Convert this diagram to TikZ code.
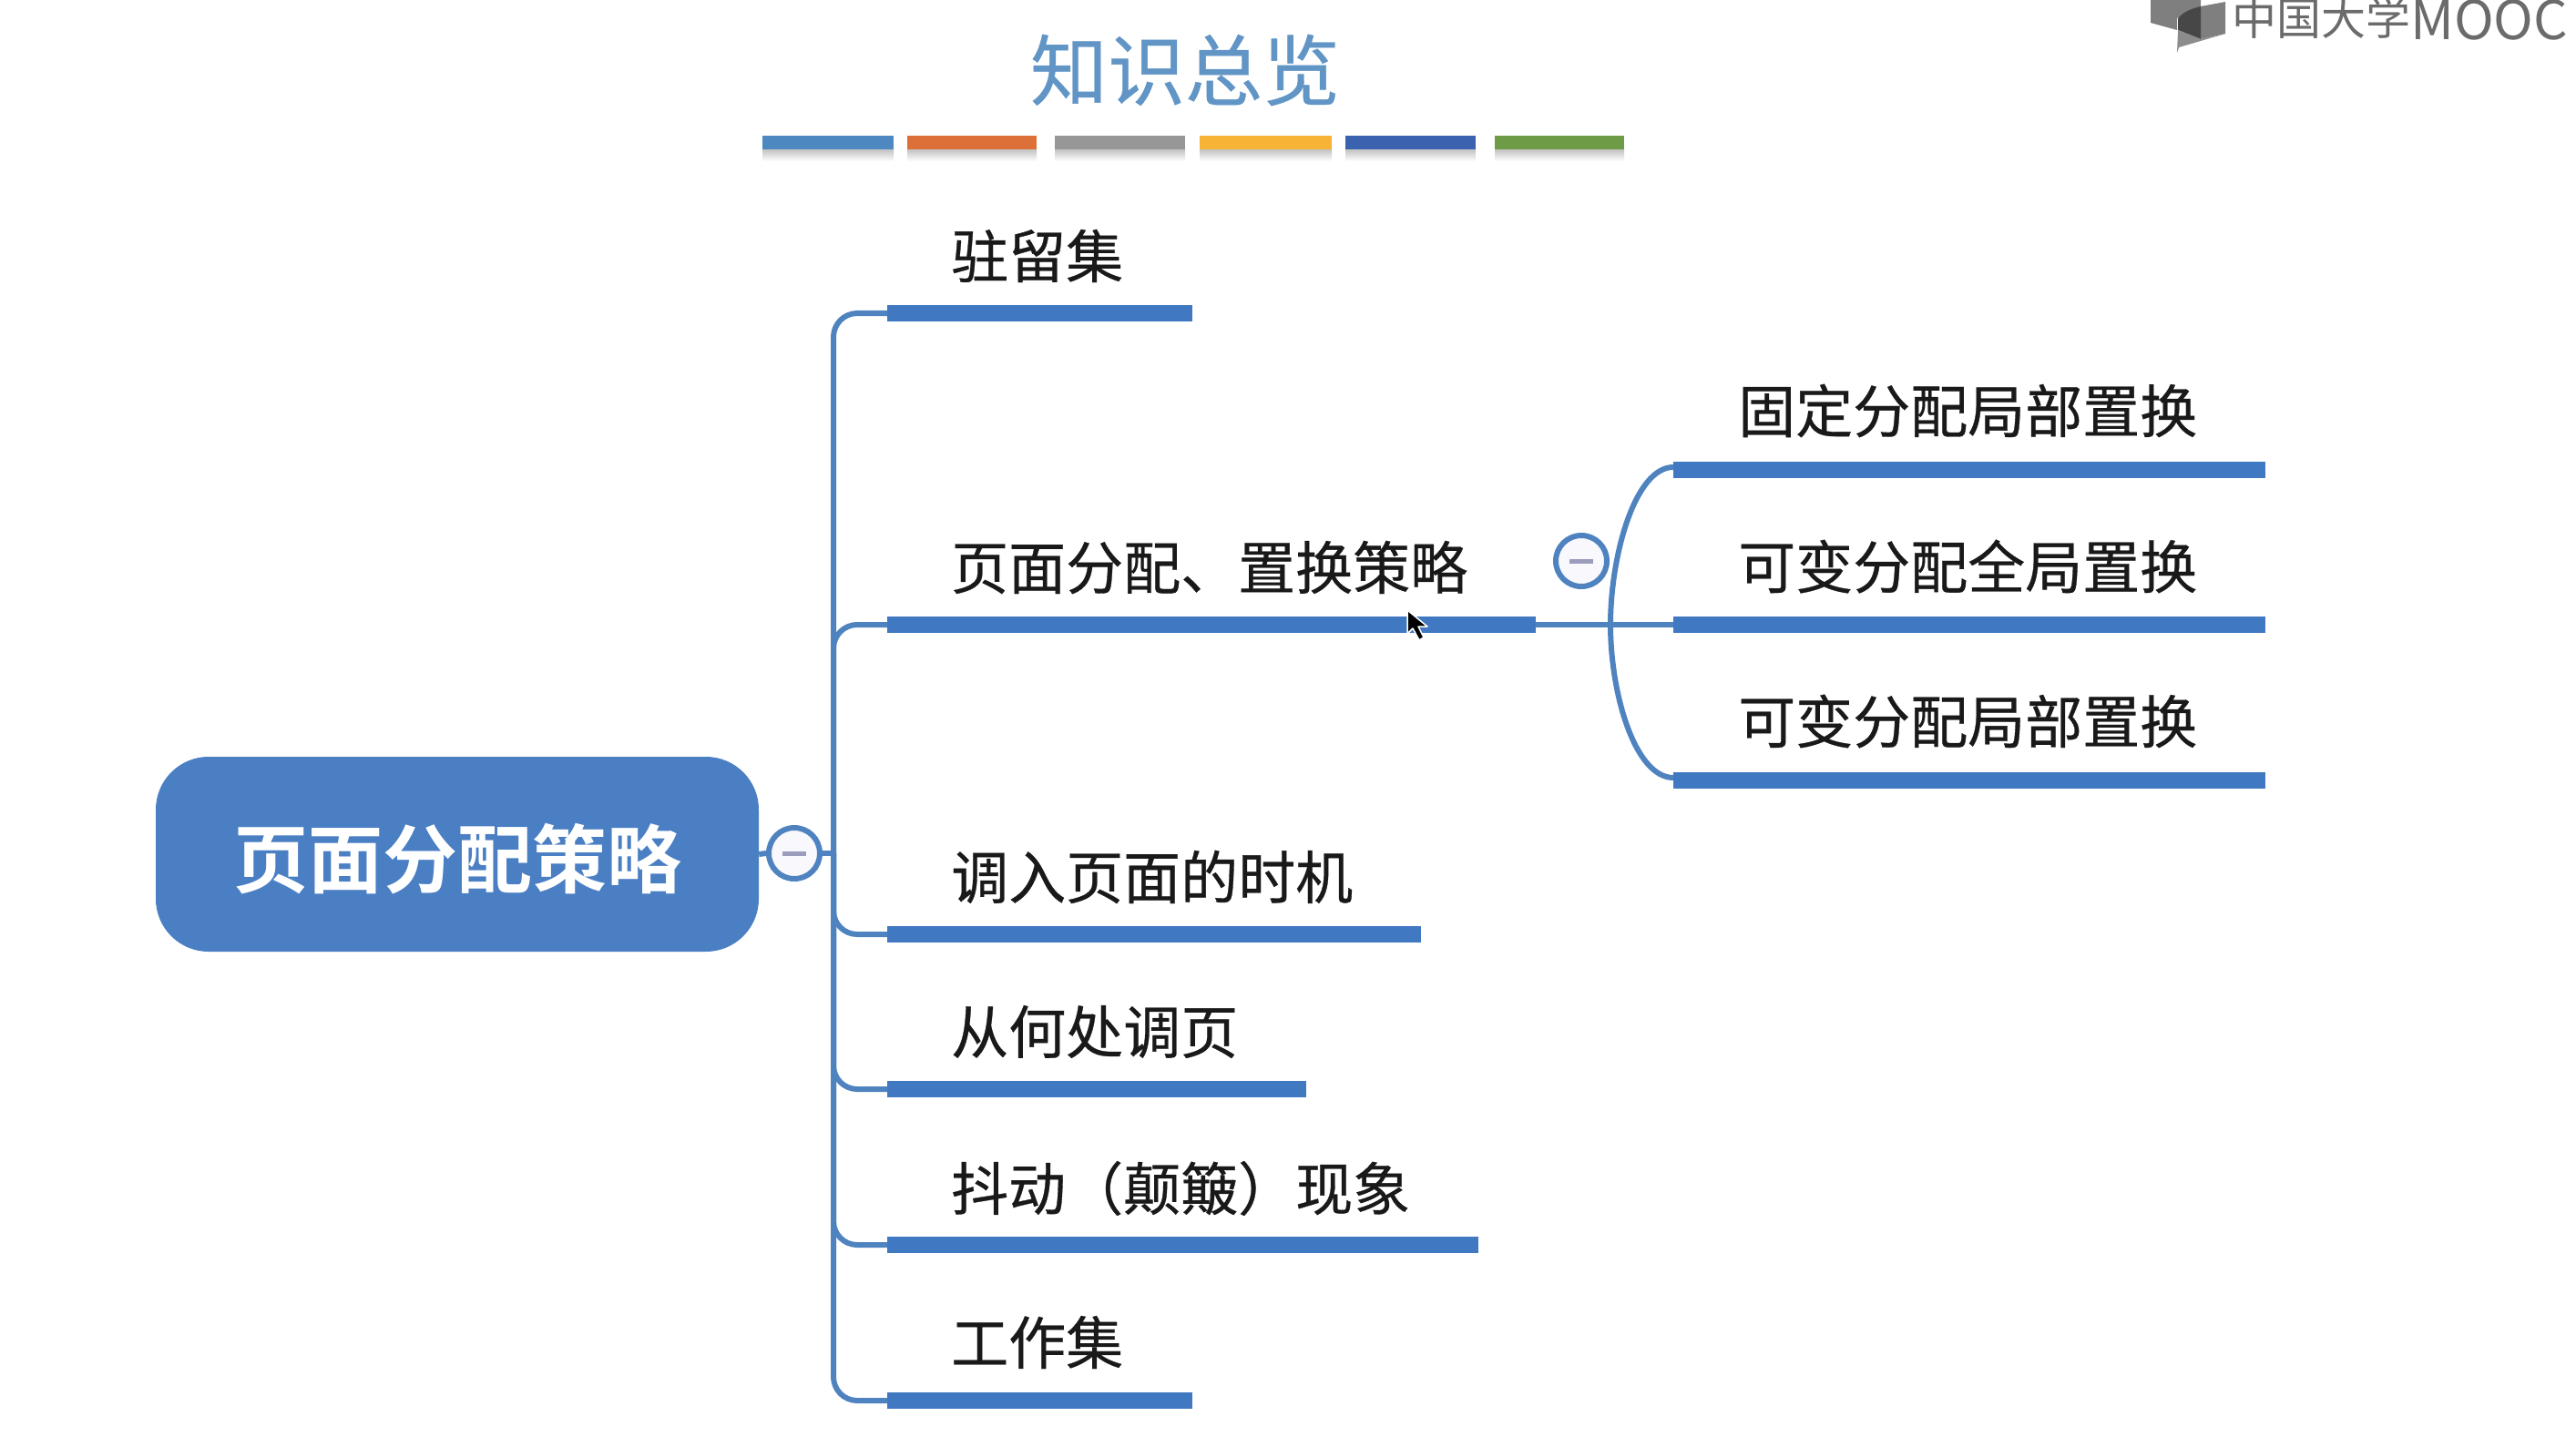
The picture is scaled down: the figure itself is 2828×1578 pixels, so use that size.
\documentclass[tikz,border=0pt]{standalone}
\usepackage{fontspec}
\usetikzlibrary{calc}
\newfontfamily\cjk[FakeBold=0.5]{Noto Sans CJK SC}
\newfontfamily\cjklogo{Noto Sans CJK SC}
\newfontfamily\cjkb{Noto Sans CJK SC Bold}
\definecolor{barblue}{HTML}{4079C1}
\definecolor{lineblue}{HTML}{4F83C0}
\definecolor{rootblue}{HTML}{4A7FC4}
\definecolor{titleblue}{HTML}{6195C6}
\definecolor{tbA}{HTML}{4E88C0}
\definecolor{tbB}{HTML}{DD7038}
\definecolor{tbC}{HTML}{979797}
\definecolor{tbD}{HTML}{F6B335}
\definecolor{tbE}{HTML}{3A62AE}
\definecolor{tbF}{HTML}{6E9C46}
\definecolor{togglefill}{HTML}{F8F8FD}
\definecolor{minusgrey}{HTML}{9C9CBC}
\definecolor{logogrey}{HTML}{7F7F7F}
\tikzset{
  barnode/.style={fill=barblue,draw=none,inner sep=0,minimum height=18pt,anchor=west},
  titlebar/.style={draw=none,inner sep=0,minimum height=15pt,anchor=west},
  itemtext/.style={font=\cjk\fontsize{63}{70}\selectfont,text=black!90,inner sep=0,anchor=west},
  conn/.style={draw=lineblue,line width=6pt},
  togglenode/.style={circle,draw=lineblue,line width=6pt,fill=togglefill,inner sep=0,minimum size=56pt},
  minus/.style={draw=minusgrey,line width=5pt},
}
\begin{document}
\begin{tikzpicture}[x=1pt,y=-1pt]
\useasboundingbox (0,0) rectangle (2828,1578);
\clip (0,0) rectangle (2828,1578);
% title
\node[inner sep=0,text=titleblue,font=\cjk\fontsize{85}{90}\selectfont] (title) at (1301,77) {知识总览};
% title bars: soft shadows first
\foreach \a/\b in {837/981,996/1138,1158/1301,1317/1462,1477/1620,1641/1783}{
  \shade[top color=black!24,bottom color=white] (\a,164) rectangle (\b,177);
}
\node[titlebar,fill=tbA,minimum width=144pt] (t1) at (837,156.5) {};
\node[titlebar,fill=tbB,minimum width=142pt] (t2) at (996,156.5) {};
\node[titlebar,fill=tbC,minimum width=143pt] (t3) at (1158,156.5) {};
\node[titlebar,fill=tbD,minimum width=145pt] (t4) at (1317,156.5) {};
\node[titlebar,fill=tbE,minimum width=143pt] (t5) at (1477,156.5) {};
\node[titlebar,fill=tbF,minimum width=142pt] (t6) at (1641,156.5) {};
% logo
\fill[logogrey] (2361,0) -- (2361,25) -- (2390,33) -- (2390,20) -- (2416,7) -- (2416,0) -- cycle;
\fill[logogrey] (2416,7) -- (2443,2) -- (2443,37) -- (2416,43) -- cycle;
\fill[black!72] (2391,20) .. controls (2398,12) and (2408,9) .. (2416,7) -- (2416,43) -- (2391,33) -- cycle;
\fill[black!45] (2391,33) -- (2416,43) -- (2443,37) -- (2392,52) -- (2390,58) -- cycle;
\node[inner sep=0,anchor=base west,text=black!58,font=\cjklogo\fontsize{49}{55}\selectfont] (logotext) at (2450,44) {\raisebox{5pt}{中国大学}\fontsize{59}{65}\selectfont MOOC};
% root and toggles
\node[fill=rootblue,draw=none,rounded corners=58pt,minimum width=662pt,minimum height=214pt,inner sep=0,text=white,font=\cjkb\fontsize{82}{90}\selectfont] (root) at (502,938) {\raisebox{-36pt}[0pt][0pt]{页面分配策略}};
\node[togglenode] (tg1) at (872,937) {};
\draw[minus] ($(tg1.center)+(-13,0)$) -- ($(tg1.center)+(13,0)$);
\node[togglenode] (tg2) at (1736,616) {};
\draw[minus] ($(tg2.center)+(-13,0)$) -- ($(tg2.center)+(13,0)$);
% level-1 bars
\node[barnode,minimum width=335pt] (b1) at (974,344) {};
\node[barnode,minimum width=712pt] (b2) at (974,686) {};
\node[barnode,minimum width=586pt] (b3) at (974,1026) {};
\node[barnode,minimum width=460pt] (b4) at (974,1196) {};
\node[barnode,minimum width=649pt] (b5) at (974,1367) {};
\node[barnode,minimum width=335pt] (b6) at (974,1538) {};
% level-2 bars
\node[barnode,minimum width=650pt] (r1) at (1837,516) {};
\node[barnode,minimum width=650pt] (r2) at (1837,686) {};
\node[barnode,minimum width=650pt] (r3) at (1837,857) {};
% connectors
\coordinate (trunk) at (915,937);
\coordinate (fork) at (1768,686);
\draw[conn] (root.east) -- (tg1.west);
\draw[conn] (tg1.east) -- (trunk);
\foreach \t in {b1,b2,b3,b4,b5,b6}{
  \draw[conn,rounded corners=26pt] (trunk) |- (\t.west);
}
\draw[conn] (b2.east) -- (r2.west);
\draw[conn] (fork) .. controls ($(fork)+(0,-76)$) and ($(r1.west)+(-42,-3)$) .. ($(r1.west)+(0,-3)$);
\draw[conn] (fork) .. controls ($(fork)+(0,76)$) and ($(r3.west)+(-42,-3)$) .. ($(r3.west)+(0,-3)$);
% labels
\node[itemtext] (l1) at (1044,281) {驻留集};
\node[itemtext] (l2) at (1044,623) {页面分配、置换策略};
\node[itemtext] (l3) at (1044,963) {调入页面的时机};
\node[itemtext] (l4) at (1044,1133) {从何处调页};
\node[itemtext] (l5) at (1044,1305) {抖动（颠簸）现象};
\node[itemtext] (l6) at (1044,1474) {工作集};
\node[itemtext] (m1) at (1908,451) {固定分配局部置换};
\node[itemtext] (m2) at (1908,622) {可变分配全局置换};
\node[itemtext] (m3) at (1908,792) {可变分配局部置换};
% mouse pointer
\draw[fill=black,draw=white,line width=1.5pt,line join=round] (1545,670) -- (1545,696) -- (1551,690) -- (1558,703) -- (1563,700) -- (1557,688) -- (1567,688) -- cycle;
\end{tikzpicture}
\end{document}
